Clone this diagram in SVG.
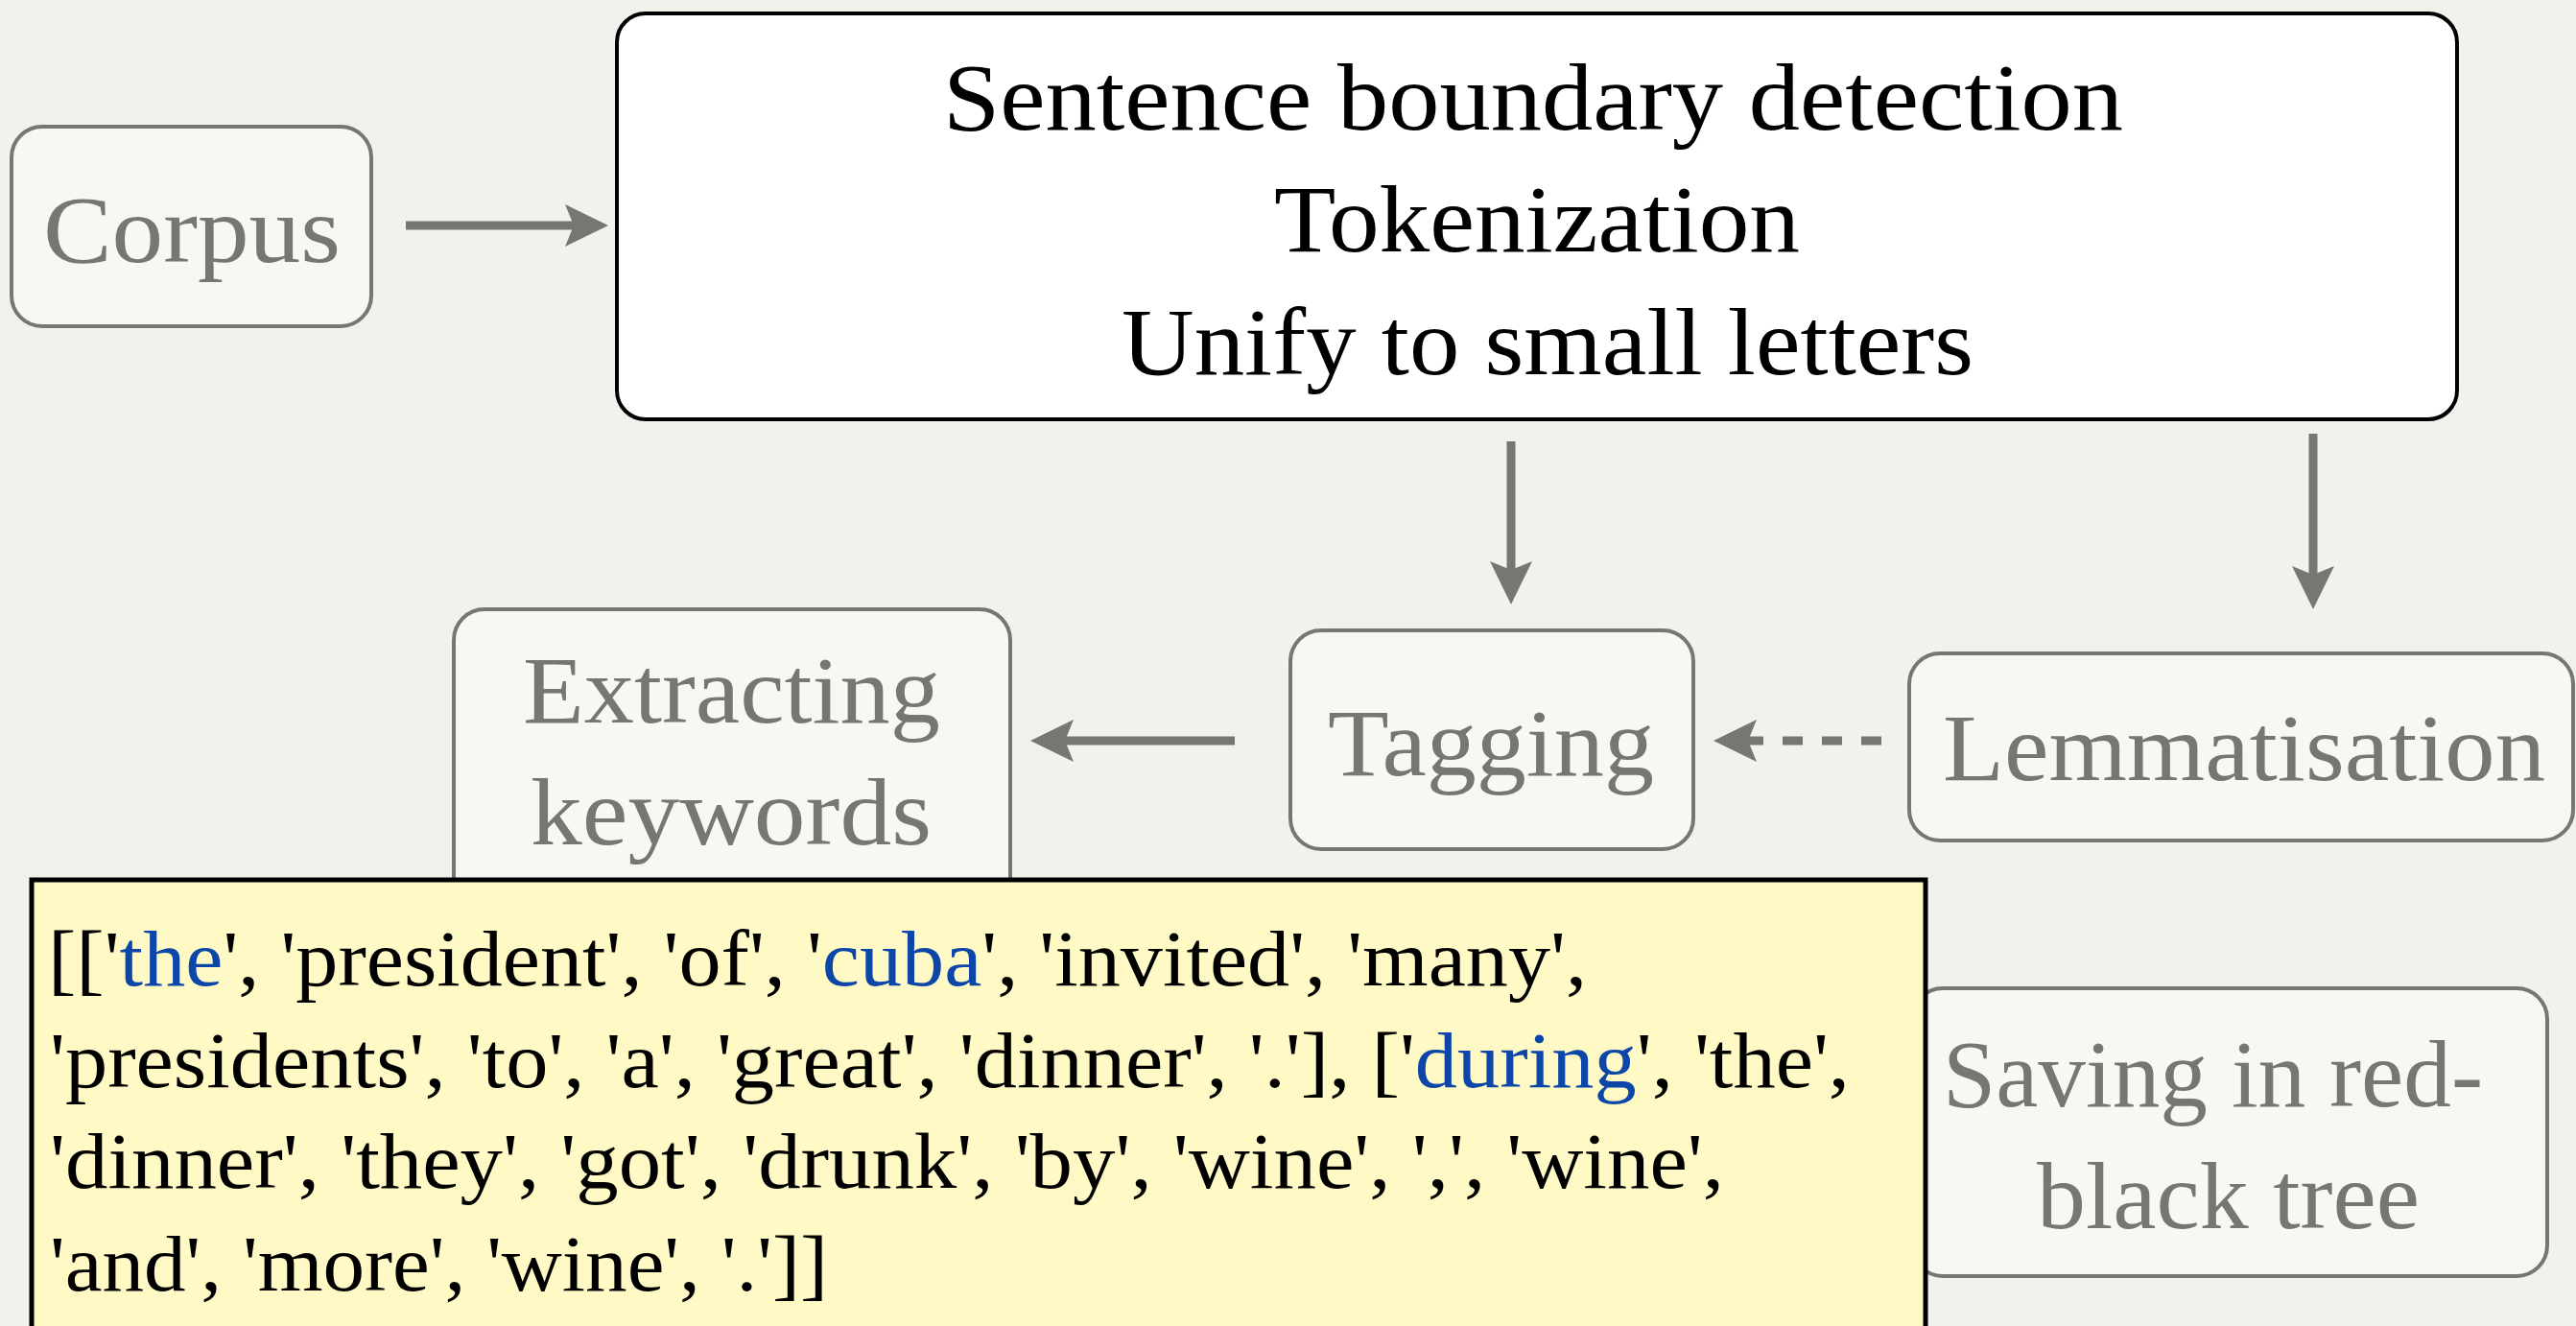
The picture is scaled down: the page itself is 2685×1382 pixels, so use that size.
<svg xmlns="http://www.w3.org/2000/svg" width="2685" height="1382" viewBox="0 0 2685 1382">
  <style>
    .node { fill: #f8f7f4; stroke: #777672; stroke-width: 4; }
    .main { fill: #ffffff; stroke: #000000; stroke-width: 4; }
    .lbl { font-family: "Liberation Serif", "DejaVu Serif", serif; font-size: 100px; fill: #777672; }
    .lblMain { font-family: "Liberation Serif", "DejaVu Serif", serif; font-size: 100px; fill: #000000; }
    .edge { stroke: #777672; stroke-width: 9; fill: none; }
    .dashed { stroke-dasharray: 21 20; }
    .code { font-family: "Liberation Serif", "DejaVu Serif", serif; font-size: 82px; fill: #000000; }
    .kw { fill: #0b46a8; }
  </style>
  <defs>
    <marker id="head" viewBox="0 0 46 44" refX="9" refY="22" markerWidth="46" markerHeight="44" markerUnits="userSpaceOnUse" orient="auto">
      <path d="M0,0 L45,22 L0,44 L9,22 Z" fill="#777672"/>
    </marker>
  </defs>

  <!-- background -->
  <rect x="0" y="0" width="2685" height="1382" fill="#f3f1ec"/>

  <!-- connectors -->
  <g id="connectors">
    <line class="edge" x1="423" y1="235" x2="598" y2="235" marker-end="url(#head)"/>
    <line class="edge" x1="1575" y1="460" x2="1575" y2="594" marker-end="url(#head)"/>
    <line class="edge" x1="2411" y1="452" x2="2411" y2="599" marker-end="url(#head)"/>
    <line class="edge" x1="1287" y1="772" x2="1110" y2="772" marker-end="url(#head)"/>
    <line class="edge dashed" x1="1961" y1="772" x2="1822" y2="772" marker-end="url(#head)"/>
  </g>

  <!-- nodes -->
  <g id="corpus">
    <rect class="node" x="12" y="132" width="375" height="208" rx="32"/>
    <text class="lbl" x="45" y="273" textLength="310" lengthAdjust="spacingAndGlyphs">Corpus</text>
  </g>

  <g id="preprocessing">
    <rect class="main" x="643" y="14" width="1918" height="423" rx="30"/>
    <text class="lblMain" x="983" y="135" textLength="1230" lengthAdjust="spacingAndGlyphs">Sentence boundary detection</text>
    <text class="lblMain" x="1328" y="262" textLength="548" lengthAdjust="spacingAndGlyphs">Tokenization</text>
    <text class="lblMain" x="1169" y="390" textLength="888" lengthAdjust="spacingAndGlyphs">Unify to small letters</text>
  </g>

  <g id="extracting">
    <rect class="node" x="473" y="635" width="580" height="320" rx="32"/>
    <text class="lbl" x="545" y="753" textLength="435" lengthAdjust="spacingAndGlyphs">Extracting</text>
    <text class="lbl" x="553" y="880" textLength="418" lengthAdjust="spacingAndGlyphs">keywords</text>
  </g>

  <g id="tagging">
    <rect class="node" x="1345" y="657" width="420" height="228" rx="32"/>
    <text class="lbl" x="1384" y="808" textLength="340" lengthAdjust="spacingAndGlyphs">Tagging</text>
  </g>

  <g id="lemmatisation">
    <rect class="node" x="1990" y="681" width="692" height="195" rx="32"/>
    <text class="lbl" x="2025" y="813" textLength="628" lengthAdjust="spacingAndGlyphs">Lemmatisation</text>
  </g>

  <g id="saving">
    <rect class="node" x="1993" y="1030" width="662" height="300" rx="32"/>
    <text class="lbl" x="2025" y="1153" textLength="563" lengthAdjust="spacingAndGlyphs">Saving in red-</text>
    <text class="lbl" x="2123" y="1280" textLength="399" lengthAdjust="spacingAndGlyphs">black tree</text>
  </g>

  <!-- token output callout -->
  <g id="tokens">
    <rect x="33" y="917" width="1974" height="520" fill="#fff9c6" stroke="#000000" stroke-width="5"/>
    <text class="code" x="50" y="1027" textLength="1604" lengthAdjust="spacingAndGlyphs">[['<tspan class="kw">the</tspan>', 'president', 'of', '<tspan class="kw">cuba</tspan>', 'invited', 'many',</text>
    <text class="code" x="52" y="1133" textLength="1876" lengthAdjust="spacingAndGlyphs">'presidents', 'to', 'a', 'great', 'dinner', '.'], ['<tspan class="kw">during</tspan>', 'the',</text>
    <text class="code" x="52" y="1238" textLength="1745" lengthAdjust="spacingAndGlyphs">'dinner', 'they', 'got', 'drunk', 'by', 'wine', ',', 'wine',</text>
    <text class="code" x="52" y="1345" textLength="811" lengthAdjust="spacingAndGlyphs">'and', 'more', 'wine', '.']]</text>
  </g>
</svg>
